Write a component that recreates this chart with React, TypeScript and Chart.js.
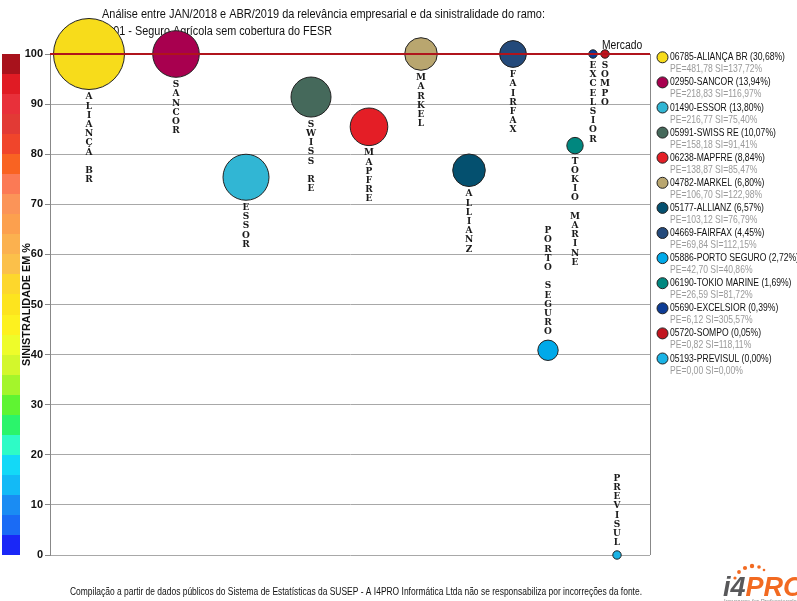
import React, { useEffect, useRef } from "react";
import { Chart, registerables } from "chart.js";

Chart.register(...registerables);

// ---- data ----
const codes = ["06785", "02950", "01490", "05991", "06238", "04782", "05177", "04669", "05886", "06190", "05690", "05720", "05193"];
const names = ["ALIANÇA BR", "SANCOR", "ESSOR", "SWISS RE", "MAPFRE", "MARKEL", "ALLIANZ", "FAIRFAX", "PORTO SEGURO", "TOKIO MARINE", "EXCELSIOR", "SOMPO", "PREVISUL"];
const shares = [30.68, 13.94, 13.8, 10.07, 8.84, 6.8, 6.57, 4.45, 2.72, 1.69, 0.39, 0.05, 0.0];
const premiums = [481.78, 218.83, 216.77, 158.18, 138.87, 106.7, 103.12, 69.84, 42.7, 26.59, 6.12, 0.82, 0.0];
const sinistralidade = [137.72, 116.97, 75.4, 91.41, 85.47, 122.98, 76.79, 112.15, 40.86, 81.72, 305.57, 118.11, 0.0];
// horizontal placement along the (hidden) relevance axis
const positions = [39, 126, 196, 261, 319, 371, 419, 463, 498, 525, 543, 555, 567];
// bubble radius (px)
const radii = [35.5, 23.3, 23, 20, 18.8, 16.3, 16.3, 13.4, 10.2, 8.2, 4.2, 4.2, 4.2];
const colors = ["#F7DC1B", "#A8004F", "#31B6D4", "#45695B", "#E41E26", "#B9A66F", "#04506F", "#244A7B", "#00A9E9", "#00877F", "#0D3C95", "#C2141E", "#1AB3E5"];
const marketValue = 100; // "Mercado" line (capped at axis max)
const yTicksMax = 100;
const colorBands = [
  "#A8121C", "#E01B24", "#E8303A", "#E23A35", "#F0452B", "#F96322", "#FB7A55", "#FB9458", "#FCA04E", "#FBB14F",
  "#FBC04A", "#FDD72C", "#FDE41E", "#FDF11F", "#EEFC2A", "#D3F72C", "#A4F52B", "#5FF432", "#2BF46B", "#2EFBC6",
  "#13D9F7", "#13BAF6", "#1A8CF3", "#1A6BF5", "#1A27F7",
];
const titleLines = [
  "Análise entre JAN/2018 e ABR/2019 da relevância empresarial e da sinistralidade do ramo:",
  "1101 - Seguro Agrícola sem cobertura do FESR",
];
const yAxisTitle = "SINISTRALIDADE EM %";
const footer = "Compilação a partir de dados públicos do Sistema de Estatísticas da SUSEP - A I4PRO Informática Ltda não se responsabiliza por incorreções da fonte.";

const fmt = (v: number) => v.toFixed(2).replace(".", ",");

function narrow(ctx: CanvasRenderingContext2D, text: string, x: number, y: number, font: string, color: string, sx: number, align = "left") {
  ctx.save();
  ctx.font = font;
  ctx.fillStyle = color;
  ctx.textBaseline = "middle";
  ctx.textAlign = "left";
  const w = ctx.measureText(text).width * sx;
  const x0 = align === "left" ? x : align === "right" ? x - w : x - w / 2;
  ctx.translate(x0, y);
  ctx.scale(sx, 1);
  ctx.fillText(text, 0, 0);
  ctx.restore();
}

const decorPlugin = {
  id: "decor",
  beforeDraw(chart: any) {
    const ctx: CanvasRenderingContext2D = chart.ctx;
    const y = chart.scales.y;
    ctx.save();
    ctx.fillStyle = "#ffffff";
    ctx.fillRect(0, 0, chart.width, chart.height);
    // colour bar
    const step = yTicksMax / colorBands.length;
    colorBands.forEach((c, i) => {
      const top = y.getPixelForValue(yTicksMax - i * step);
      const bot = y.getPixelForValue(yTicksMax - (i + 1) * step);
      ctx.fillStyle = c;
      ctx.fillRect(2, Math.round(top), 18, Math.round(bot) - Math.round(top));
    });
    // y axis title
    ctx.save();
    ctx.translate(27, (y.top + y.bottom) / 2);
    ctx.rotate(-Math.PI / 2);
    ctx.font = 'bold 11px "Liberation Sans"';
    ctx.fillStyle = "#111";
    ctx.textAlign = "center";
    ctx.textBaseline = "middle";
    ctx.fillText(yAxisTitle, 0, 0, 123);
    ctx.restore();
    // title
    ctx.font = '12px "Liberation Sans"';
    ctx.fillStyle = "#111";
    ctx.textAlign = "left";
    ctx.textBaseline = "alphabetic";
    ctx.fillText(titleLines[0], 102, 18, 443);
    ctx.fillText(titleLines[1], 102, 35, 230);
    // footer
    ctx.font = '10px "Liberation Sans"';
    ctx.fillStyle = "#111";
    ctx.textBaseline = "middle";
    ctx.fillText(footer, 70, 592, 572);
    // logo
    ctx.textBaseline = "alphabetic";
    ctx.font = 'italic bold 27px "Liberation Sans"';
    ctx.fillStyle = "#58585A";
    ctx.fillText("i4", 723, 596);
    const w4 = ctx.measureText("i4").width;
    ctx.fillStyle = "#F26A21";
    ctx.fillText("PRO", 723 + w4, 596);
    const dots = [[735, 578, 1.6], [739, 572, 1.9], [745, 568, 2.1], [752, 566, 2.2], [759, 567, 1.8], [764, 570, 1.3]];
    dots.forEach(([dx, dy, r]) => {
      ctx.beginPath();
      ctx.arc(dx, dy, r, 0, Math.PI * 2);
      ctx.fill();
    });
    ctx.font = '6px "Liberation Sans"';
    ctx.fillStyle = "#888";
    ctx.fillText("Insurance for Professionals", 724, 603);
    ctx.restore();
  },
  afterDatasetsDraw(chart: any) {
    const ctx: CanvasRenderingContext2D = chart.ctx;
    const xs = chart.scales.x;
    const ys = chart.scales.y;
    const area = chart.chartArea;
    ctx.save();
    // right border
    ctx.strokeStyle = "#888";
    ctx.lineWidth = 1;
    ctx.beginPath();
    ctx.moveTo(area.right + 0.5, area.top);
    ctx.lineTo(area.right + 0.5, area.bottom);
    ctx.stroke();
    // market line
    const my = ys.getPixelForValue(marketValue);
    ctx.strokeStyle = "#B0141C";
    ctx.lineWidth = 2;
    ctx.beginPath();
    ctx.moveTo(area.left, my);
    ctx.lineTo(area.right, my);
    ctx.stroke();
    narrow(ctx, "Mercado", 602, 46, '12px "Liberation Sans"', "#111", 0.86);
    // vertical labels
    ctx.font = 'bold 9px "DejaVu Serif"';
    ctx.fillStyle = "#1a1a1a";
    ctx.textAlign = "center";
    ctx.textBaseline = "middle";
    const pitch = 9.2;
    names.forEach((name, i) => {
      const v = Math.min(sinistralidade[i], yTicksMax);
      const px = xs.getPixelForValue(positions[i]);
      const py = ys.getPixelForValue(v);
      const chars = Array.from(name);
      const below = v >= 50;
      chars.forEach((ch, k) => {
        if (ch === " ") return;
        const ty = below ? py + radii[i] + 7.5 + k * pitch : py - radii[i] - 8 - (chars.length - 1 - k) * pitch;
        ctx.fillText(ch, px, ty);
      });
    });
    // legend
    names.forEach((name, i) => {
      const cy = 57.3 + i * 25.1;
      ctx.beginPath();
      ctx.arc(662.5, cy, 5.5, 0, Math.PI * 2);
      ctx.fillStyle = colors[i];
      ctx.fill();
      ctx.lineWidth = 1;
      ctx.strokeStyle = "#222";
      ctx.stroke();
      narrow(ctx, `${codes[i]}-${name} (${fmt(shares[i])}%)`, 670, cy, '11px "Liberation Sans"', "#111", 0.78);
      narrow(ctx, `PE=${fmt(premiums[i])} SI=${fmt(sinistralidade[i])}%`, 670, cy + 12, '11px "Liberation Sans"', "#9a9a9a", 0.78);
    });
    ctx.restore();
  },
};

export default function App() {
  const ref = useRef<HTMLCanvasElement | null>(null);
  useEffect(() => {
    if (!ref.current) return;
    const chart = new Chart(ref.current, {
      type: "bubble",
      data: {
        datasets: [
          {
            data: positions.map((x, i) => ({ x, y: Math.min(sinistralidade[i], yTicksMax), r: radii[i] })),
            backgroundColor: colors,
            borderColor: "#222",
            borderWidth: 1,
            clip: false as any,
          },
        ],
      },
      options: {
        responsive: false,
        animation: false,
        events: [],
        layout: { padding: { top: 54, right: 147, bottom: 46, left: 0 } },
        plugins: { legend: { display: false }, tooltip: { enabled: false } },
        scales: {
          x: { type: "linear", min: 0, max: 600, display: false },
          y: {
            min: 0,
            max: yTicksMax,
            afterFit: (s: any) => {
              s.width = 50;
            },
            ticks: { stepSize: 10, color: "#111", font: { family: "Liberation Sans", size: 11, weight: "bold" }, padding: 2 },
            grid: { color: "#a8a8a8", lineWidth: 1, tickLength: 5, tickColor: "#888" },
            border: { display: true, color: "#888", width: 1 },
          },
        },
      },
      plugins: [decorPlugin],
    });
    return () => chart.destroy();
  }, []);
  return (
    <div style={{ position: "absolute", left: 0, top: 0, width: 797, height: 601, background: "#fff" }}>
      <canvas ref={ref} width={797} height={601} style={{ display: "block" }} />
    </div>
  );
}
